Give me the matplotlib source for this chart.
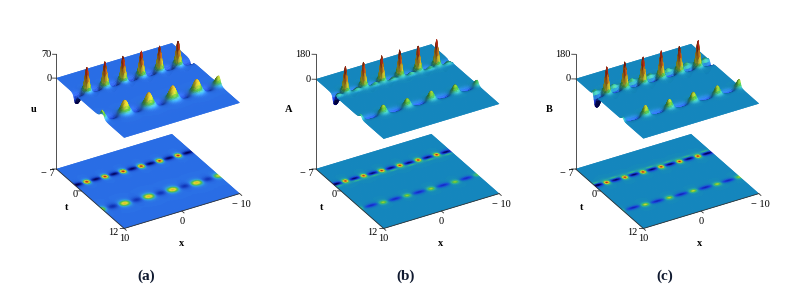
"""Three Maple-style surfaces u, A, B over (x, t), each with its density map on the floor of the box."""
import matplotlib
matplotlib.use("Agg")
import matplotlib.pyplot as plt
import numpy as np
from matplotlib.colors import LinearSegmentedColormap, Normalize
from mpl_toolkits.mplot3d import proj3d

plt.rcParams["font.family"] = ["Liberation Serif", "DejaVu Serif"]

X_RANGE = (-10, 10)
T_RANGE = (-7, 12)
X_TICKS = [10, 0, -10]
T_TICKS = [-7, 0, 12]

# Crests and troughs read off the picture. Only these are measured: the shape of the
# surface between them is an approximation (rational lumps around each reading).
TOP_X = [10.8, 7.96, 4.85, 1.75, -1.35, -4.5, -7.66, -10.6]
LOW_X = [10.2, 6.22, 2.13, -1.95, -6.04, -9.9]
TOP_TROUGH_X = [9.6, 6.4, 3.3, 0.2, -2.9, -6.1, -9.2]
LOW_TROUGH_X = [8.2, 4.2, 0.1, -4.0, -8.0]

U_TOP_T = [-1.8, -1.79, -1.73, -1.67, -1.6, -1.55, -1.49, -1.45]
U_TOP_H = [0, 72, 71, 73, 72, 71, 72, 0]
U_LOW_T = [5.8, 6.03, 6.13, 6.23, 6.34, 6.23]
U_LOW_H = [26, 36, 38, 38, 37, 26]
U_TOP_TROUGH_D = [-30, -27, -27, -27, -27, -27, -28]
U_LOW_TROUGH_D = [-16, -15, -15, -15, -15]

A_TOP_T = [-2.0, -2.05, -1.98, -1.92, -1.85, -1.8, -1.74, -1.7]
A_TOP_H = [0, 182, 180, 185, 188, 186, 186, 0]
A_LOW_T = [5.5, 5.73, 5.83, 5.93, 6.04, 5.93]
A_LOW_H = [36, 55, 53, 57, 53, 36]
A_TOP_TROUGH_D = [-80, -64, -64, -64, -64, -64, -70]
A_LOW_TROUGH_D = [-36, -36, -36, -36, -36]

B_TOP_T = [-1.6, -1.59, -1.53, -1.47, -1.4, -1.35, -1.29, -1.25]
B_TOP_H = [0, 190, 188, 190, 190, 190, 192, 0]
B_LOW_T = [6.2, 6.43, 6.53, 6.63, 6.74, 6.63]
B_LOW_H = [30, 66, 62, 64, 60, 55]
B_TOP_TROUGH_D = [-90, -68, -68, -68, -68, -68, -80]
B_LOW_TROUGH_D = [-40, -40, -40, -40, -40]


def lump(xx, tt, x0, t0, h, wx, wt, p=2.0):
    return h / (1 + ((xx - x0) / wx) ** 2 + ((tt - t0) / wt) ** 2) ** p


def field(xx, tt, top_t, top_h, low_t, low_h, top_d, low_d, peak_w, trough_w, arc_off, arc_h):
    top = np.zeros_like(xx)
    low = np.zeros_like(xx)
    dips = np.zeros_like(xx)
    for x0, t0, h in zip(TOP_X, top_t, top_h):
        top += lump(xx, tt, x0, t0, h, peak_w[0], peak_w[0])
    for x0, t0, h in zip(LOW_X, low_t, low_h):
        low += lump(xx, tt, x0, t0, h, peak_w[1], peak_w[2])
    for x0, d in zip(TOP_TROUGH_X, top_d):
        t0 = np.interp(x0, TOP_X[::-1], top_t[::-1])
        dips += lump(xx, tt, x0, t0, d, trough_w[0], trough_w[1])
        dips += lump(xx, tt, x0, t0 + arc_off, arc_h, 0.9, 0.28)
    for x0, d in zip(LOW_TROUGH_X, low_d):
        t0 = np.interp(x0, LOW_X[::-1], low_t[::-1])
        dips += lump(xx, tt, x0, t0, d, trough_w[2], trough_w[3])
    # troughs fade out under the crests so the crest heights stay as read
    fade = 1 - np.clip(top / (0.35 * max(top_h)) + low / (0.7 * max(low_h)), 0, 1)
    return top + low + dips * fade


def lit(rgba, xx, tt, z, z_span):
    # gentle Lambert shading, slopes compressed so the peaks keep their hue
    dzdt, dzdx = np.gradient(0.35 * z / z_span, tt[:, 0] / 19.0, xx[0] / 20.0)
    n = np.dstack([-dzdx, -dzdt, np.ones_like(z)])
    n /= np.linalg.norm(n, axis=2, keepdims=True)
    light = np.array([-0.35, 0.45, 0.82])
    light /= np.linalg.norm(light)
    amount = (n @ light) / light[2]
    out = rgba.copy()
    out[..., :3] = np.clip(rgba[..., :3] * np.clip(amount, 0.6, 1.1)[..., None], 0, 1)
    glow = np.clip(amount - 1.0, 0, 0.4)[..., None] * (np.abs(z) < 0.03 * z_span)[..., None]
    out[..., :3] = np.clip(out[..., :3] + glow * 0.6, 0, 1)
    return out


def tick_label(ax, x, t, z, s, dx, dy, ha="center"):
    px, py, _ = proj3d.proj_transform(x, t, z, ax.get_proj())
    ax.annotate(s, xy=(px, py), xycoords="data", xytext=(dx, dy), textcoords="offset pixels",
                ha=ha, va="center", fontsize=7.5, zorder=4)


def panel(fig, left_px, z_tick, z_floor, zlabel, caption, cap_x, label_x, z0_px, cmap, data):
    size = 225
    ax = fig.add_axes([left_px / 790, 51.5 / 291, size / 790, size / 291],
                      projection="3d", proj_type="ortho", computed_zorder=False)
    ax.view_init(elev=31, azim=59.6)
    ax.set_box_aspect((1, 1, 1))
    ax.set_xlim(*X_RANGE)
    ax.set_ylim(*T_RANGE)
    ax.set_zlim(z_floor, z_tick)
    ax.set_axis_off()
    ax.patch.set_alpha(0)

    x = np.linspace(*X_RANGE, 200)
    t = np.linspace(*T_RANGE, 120)
    xx, tt = np.meshgrid(x, t)
    z = field(xx, tt, **data)
    norm = Normalize(-0.36 * z_tick, z_tick)
    rgba = cmap(norm(z))

    floor = np.full_like(z, z_floor)
    ax.plot_surface(xx, tt, floor, facecolors=rgba, rstride=1, cstride=1, shade=False,
                    linewidth=0.25, antialiased=True, zorder=1)
    ax.plot_surface(xx, tt, z, facecolors=lit(rgba, xx, tt, z, z_tick - z_floor), rstride=1,
                    cstride=1, shade=False, linewidth=0.25, antialiased=True, zorder=2)

    lc = dict(color="#333333", lw=0.6, zorder=3)
    ax.plot([10, 10], [-7, -7], [z_floor, z_tick], **lc)
    ax.plot([10, 10], [-7, 12], [z_floor, z_floor], **lc)
    ax.plot([10, -10], [12, 12], [z_floor, z_floor], **lc)
    for v, s in zip([z_tick, 0], [str(z_tick), "0"]):
        ax.plot([10, 10.5], [-7, -7.3], [v, v], **lc)
        tick_label(ax, 10, -7, v, s, -5, 0, ha="right")
    for v, s, dx in zip(T_TICKS, ["\u2212 7", "0", "12"], [-2, -4, -6]):
        ax.plot([10, 10.5], [v, v - 0.3], [z_floor, z_floor], **lc)
        tick_label(ax, 10, v, z_floor, s, dx, -4, ha="right")
    for v, s, dx, dy in zip(X_TICKS, ["10", "0", "\u2212 10"], [0, 0, 2], [-10, -10, -11]):
        ax.plot([v, v], [12, 12.6], [z_floor, z_floor], **lc)
        tick_label(ax, v, 12, z_floor, s, dx, dy)

    fig.text(z0_px / 790, 1 - 109 / 291, zlabel, fontsize=7.5, fontweight="bold", ha="center", va="center")
    fig.text((z0_px + 33) / 790, 1 - 208 / 291, "t", fontsize=7.5, fontweight="bold", ha="center", va="center")
    fig.text(label_x / 790, 1 - 244 / 291, "x", fontsize=7.5, fontweight="bold", ha="center", va="center")
    fig.text(cap_x / 790, 1 - 276 / 291, caption, fontsize=11, fontweight="bold",
             ha="center", va="center", color="#101a30")


U_COLORS = [(0.0, "#00005a"), (0.17, "#123ac0"), (0.265, "#2a6ee6"), (0.32, "#30a0e0"),
            (0.42, "#50c040"), (0.56, "#e6dc32"), (0.78, "#d88a20"), (1.0, "#b81c14")]
AB_COLORS = [(0.0, "#00005a"), (0.17, "#1a3ae0"), (0.265, "#1488bc"), (0.33, "#2cb0a0"),
             (0.42, "#50c040"), (0.54, "#e6dc32"), (0.78, "#d88a20"), (1.0, "#b81c14")]
u_map = LinearSegmentedColormap.from_list("u_hue", U_COLORS)
ab_map = LinearSegmentedColormap.from_list("ab_hue", AB_COLORS)

fig = plt.figure(figsize=(7.9, 2.91), dpi=100)
panel(fig, 32.5, 70, -267, "u", "(a)", 146, 182, 34, u_map,
      dict(top_t=U_TOP_T, top_h=U_TOP_H, low_t=U_LOW_T, low_h=U_LOW_H, top_d=U_TOP_TROUGH_D,
           low_d=U_LOW_TROUGH_D, peak_w=(0.52, 1.05, 0.8), trough_w=(1.35, 0.5, 1.7, 0.85),
           arc_off=0.0, arc_h=0.0))
panel(fig, 292, 180, -648, "A", "(b)", 406, 441, 289, ab_map,
      dict(top_t=A_TOP_T, top_h=A_TOP_H, low_t=A_LOW_T, low_h=A_LOW_H, top_d=A_TOP_TROUGH_D,
           low_d=A_LOW_TROUGH_D, peak_w=(0.46, 0.8, 0.6), trough_w=(1.3, 0.42, 1.7, 0.5),
           arc_off=0.65, arc_h=30.0))
panel(fig, 551.7, 180, -658, "B", "(c)", 665, 700, 549, ab_map,
      dict(top_t=B_TOP_T, top_h=B_TOP_H, low_t=B_LOW_T, low_h=B_LOW_H, top_d=B_TOP_TROUGH_D,
           low_d=B_LOW_TROUGH_D, peak_w=(0.46, 0.8, 0.55), trough_w=(1.35, 0.4, 1.8, 0.45),
           arc_off=-0.7, arc_h=30.0))
fig.savefig("out.png", dpi=100)
